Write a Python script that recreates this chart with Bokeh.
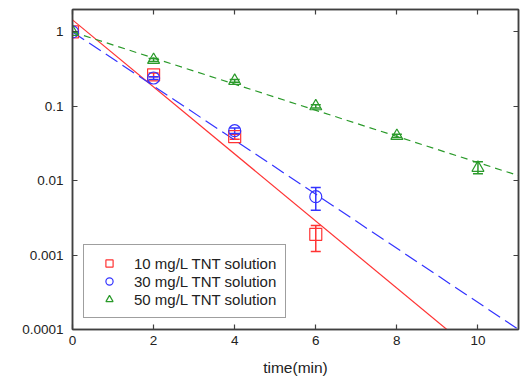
from bokeh.plotting import figure
from bokeh.models import (ColumnDataSource, FixedTicker, CustomJSTickFormatter,
                          LinearAxis, LogAxis, Whisker, TeeHead, Legend, LegendItem)
from bokeh.embed import file_html
from bokeh.resources import INLINE

# ---- data ----
t10 = [0, 2, 4, 6]
c10 = [1.0, 0.265, 0.039, 0.0019]
lo10 = [1.0, 0.25, 0.036, 0.00112]
hi10 = [1.0, 0.28, 0.042, 0.0025]

t30 = [0, 2, 4, 6]
c30 = [1.0, 0.24, 0.047, 0.0061]
lo30 = [1.0, 0.23, 0.043, 0.0040]
hi30 = [1.0, 0.25, 0.051, 0.0081]

t50 = [0, 2, 4, 6, 8, 10]
c50 = [1.0, 0.42, 0.22, 0.10, 0.04, 0.0149]
lo50 = [1.0, 0.40, 0.21, 0.095, 0.038, 0.0124]
hi50 = [1.0, 0.44, 0.23, 0.105, 0.042, 0.018]

fit_x = [0, 11]
fit10 = [1.45, 1.6e-5]
fit30 = [1.0, 1.0e-4]
fit50 = [1.0, 0.0117]

labels = ["10 mg/L TNT solution", "30 mg/L TNT solution", "50 mg/L TNT solution"]
yticks = [0.0001, 0.001, 0.01, 0.1, 1]
xticks = [0, 2, 4, 6, 8, 10]

RED = "#ff3333"
BLUE = "#3333ff"
GREEN = "#2a9a2a"
AX = "#404040"
FONT = "Liberation Sans"

p = figure(frame_width=446, frame_height=320, x_range=(0, 11), y_range=(1e-4, 2.0),
           y_axis_type="log", output_backend="svg", toolbar_location=None,
           min_border_left=72, min_border_top=9, min_border_right=5, min_border_bottom=46,
           x_axis_label="time(min)")
p.grid.visible = False
p.outline_line_color = AX
p.outline_line_width = 1.5
p.background_fill_color = "white"
p.border_fill_color = "white"

fmt = CustomJSTickFormatter(code="return tick.toString();")
blank = CustomJSTickFormatter(code="return '';")


def style_axis(ax):
    ax.axis_line_color = AX
    ax.axis_line_width = 1.5
    ax.major_tick_line_color = AX
    ax.major_tick_line_width = 1.2
    ax.major_tick_in = 5
    ax.major_tick_out = 0
    ax.minor_tick_in = 0
    ax.minor_tick_out = 0
    ax.major_label_text_font = FONT
    ax.major_label_text_font_size = "13.5px"
    ax.major_label_text_color = "#222222"
    ax.axis_label_text_font = FONT
    ax.axis_label_text_font_size = "15.5px"
    ax.axis_label_text_font_style = "normal"
    ax.axis_label_text_color = "#222222"


xa = p.xaxis[0]
xa.ticker = FixedTicker(ticks=xticks, minor_ticks=[])
style_axis(xa)
xa.major_label_standoff = 6
xa.axis_label_standoff = 11

ya = p.yaxis[0]
ya.ticker = FixedTicker(ticks=yticks, minor_ticks=[])
ya.formatter = fmt
style_axis(ya)
ya.major_label_standoff = 9

top = LinearAxis(ticker=FixedTicker(ticks=xticks, minor_ticks=[]), formatter=blank)
style_axis(top)
p.add_layout(top, "above")
right = LogAxis(ticker=FixedTicker(ticks=yticks, minor_ticks=[]), formatter=blank)
style_axis(right)
p.add_layout(right, "right")

# fit lines
p.line(fit_x, fit10, line_color=RED, line_width=1.2)
p.line(fit_x, fit30, line_color=BLUE, line_width=1.2, line_dash="14 6")
p.line(fit_x, fit50, line_color=GREEN, line_width=1.2, line_dash="7 5")

items = []
for t, c, lo, hi, col, mk, lab in [
    (t10, c10, lo10, hi10, RED, "square", labels[0]),
    (t30, c30, lo30, hi30, BLUE, "circle", labels[1]),
    (t50, c50, lo50, hi50, GREEN, "triangle", labels[2]),
]:
    src = ColumnDataSource(dict(t=t, c=c, lo=lo, hi=hi))
    w = Whisker(source=src, base="t", lower="lo", upper="hi", line_color=col, line_width=1.5,
                lower_head=TeeHead(size=10, line_color=col, line_width=1.5),
                upper_head=TeeHead(size=10, line_color=col, line_width=1.5))
    p.add_layout(w)
    r = p.scatter("t", "c", source=src, marker=mk, size=12, fill_color=None,
                  line_color=col, line_width=1.2)
    items.append(LegendItem(label=lab, renderers=[r]))

leg = Legend(items=items, location=(11, 11))
leg.label_text_font = FONT
leg.label_text_font_size = "15px"
leg.label_text_color = "#222222"
leg.border_line_color = AX
leg.border_line_width = 1.2
leg.padding = 9
leg.margin = 0
leg.spacing = 0
leg.label_height = 18
leg.glyph_height = 18
leg.glyph_width = 32
leg.label_standoff = 9
leg.background_fill_alpha = 1.0
p.add_layout(leg, "center")

open("out.html", "w").write(file_html(p, INLINE))
